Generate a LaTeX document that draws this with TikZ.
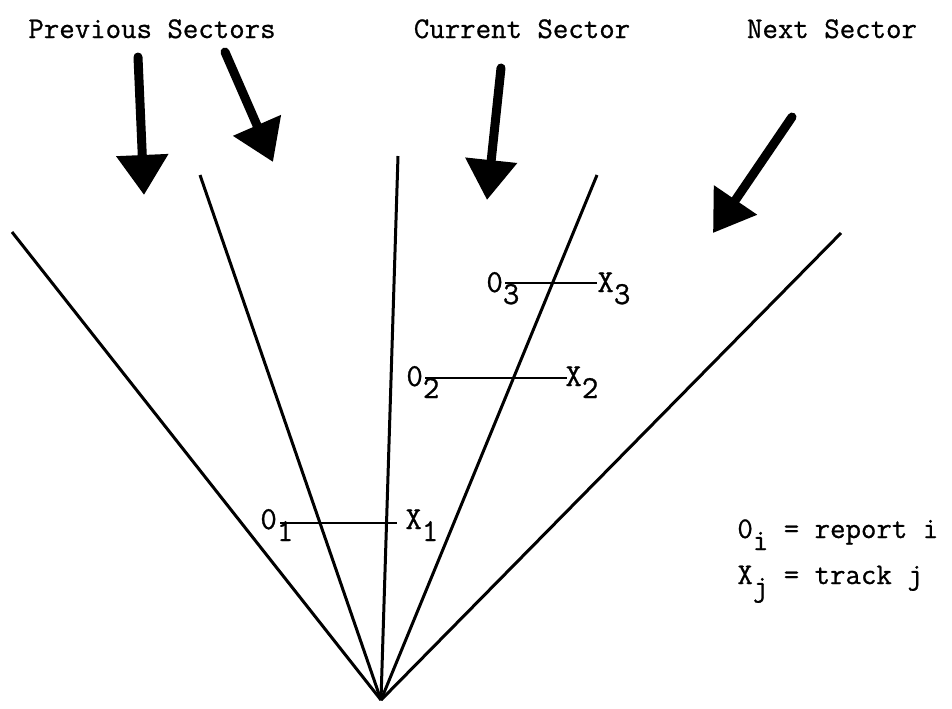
\documentclass[tikz,border=0pt]{standalone}
\usepackage{fontspec}
\newfontfamily\tw{Latin Modern Mono}[FakeBold=0.8]
\usetikzlibrary{arrows.meta}
\newcommand{\subx}[2]{#1\raisebox{-6pt}{#2}}
\begin{document}
\begin{tikzpicture}[x=0.5pt,y=-0.5pt,
  sector/.style={line width=1.5pt},
  track/.style={line width=1.2pt},
  bigarrow/.style={line width=4.5pt, line cap=round, -{Triangle[length=20pt,width=25pt]}},
  txt/.style={font=\tw\fontsize{15}{17}\selectfont, inner sep=0pt},
  hdr/.style={txt, anchor=base},
  lbl/.style={txt, anchor=base west},
  mark0/.style={font=\tw\fontsize{16}{18}\selectfont, inner sep=0pt, anchor=base west}]
\useasboundingbox[fill=white] (0,0) rectangle (952,708);
% sector boundaries
\coordinate (apex) at (381,700);
\coordinate (s1) at (12,232);
\coordinate (s2) at (200,175);
\coordinate (s3) at (398,156);
\coordinate (s4) at (597,175);
\coordinate (s5) at (841,233);
\foreach \s in {s1,s2,s3,s4,s5} \draw[sector] (apex) -- (\s);
% headers
\node[hdr] (prev) at (152,38) {Previous Sectors};
\node[hdr] (curr) at (522,38) {Current Sector};
\node[hdr] (next) at (832,38) {Next Sector};
% big arrows
\coordinate (a1t) at (138,57);  \coordinate (a1h) at (144,195);
\coordinate (a2t) at (225,52);  \coordinate (a2h) at (273,162);
\coordinate (a3t) at (501,68);  \coordinate (a3h) at (487,200);
\coordinate (a4t) at (792,117); \coordinate (a4h) at (713,233);
\draw[bigarrow] (a1t) -- (a1h);
\draw[bigarrow] (a2t) -- (a2h);
\draw[bigarrow] (a3t) -- (a3h);
\draw[bigarrow] (a4t) -- (a4h);
% reports and tracks
\node[mark0] (r3) at (486,292) {\subx{0}{3}};
\node[mark0] (t3) at (597,292) {\subx{X}{3}};
\node[mark0] (r2) at (406,386) {\subx{0}{2}};
\node[mark0] (t2) at (565,386) {\subx{X}{2}};
\node[mark0] (r1) at (260,529) {\subx{0}{1}};
\node[mark0] (t1) at (405,529) {\subx{X}{1}};
\coordinate (r3e) at (505,283); \coordinate (t3e) at (597,283);
\coordinate (r2e) at (425,378); \coordinate (t2e) at (567,378);
\coordinate (r1e) at (280,523); \coordinate (t1e) at (397,523);
\draw[track] (r3e) -- (t3e);
\draw[track] (r2e) -- (t2e);
\draw[track] (r1e) -- (t1e);
% legend
\node[lbl] (leg1) at (737,538) {\subx{0}{i} = report i};
\node[lbl] (leg2) at (737,584) {\subx{X}{j} = track j};
\end{tikzpicture}
\end{document}
